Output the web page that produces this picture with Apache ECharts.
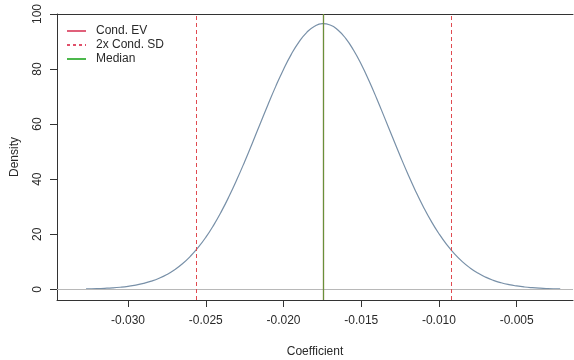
<!DOCTYPE html>
<html>
<head>
<meta charset="utf-8">
<script src="https://cdn.jsdelivr.net/npm/echarts@6/dist/echarts.min.js"></script>
<style>html,body{margin:0;padding:0;background:#fff}#c{width:574px;height:360px}</style>
</head>
<body>
<div id="c"></div>
<script>
// Density curve
var coefX = [-0.0327,-0.0325,-0.0320,-0.0315,-0.0310,-0.0305,-0.0300,-0.0295,-0.0290,-0.0285,-0.0280,-0.0275,-0.0270,-0.0265,-0.0260,-0.0255,-0.0250,-0.0245,-0.0240,-0.0235,-0.0230,-0.0225,-0.0220,-0.0215,-0.0210,-0.0205,-0.0200,-0.0195,-0.0190,-0.0185,-0.0180,-0.0175,-0.0170,-0.0165,-0.0160,-0.0155,-0.0150,-0.0145,-0.0140,-0.0135,-0.0130,-0.0125,-0.0120,-0.0115,-0.0110,-0.0105,-0.0100,-0.0095,-0.0090,-0.0085,-0.0080,-0.0075,-0.0070,-0.0065,-0.0060,-0.0055,-0.0050,-0.0045,-0.0040,-0.0035,-0.0030,-0.0025,-0.0022];
var density = [0.13,0.15,0.23,0.35,0.51,0.75,1.08,1.53,2.14,2.95,4.01,5.38,7.11,9.27,11.93,15.10,18.85,23.23,28.21,33.77,39.85,46.35,53.17,60.13,67.05,73.71,79.87,85.34,89.89,93.35,95.58,96.48,96.02,94.20,91.13,86.91,81.71,75.73,69.22,62.36,55.39,48.51,41.88,35.65,29.92,24.75,20.19,16.23,12.87,10.06,7.75,5.89,4.41,3.26,2.37,1.70,1.21,0.84,0.58,0.39,0.26,0.17,0.13];
var condEV = -0.01745;
var condSD2 = [-0.02558, -0.00918];
var median = -0.01745;
var xTicks = [-0.030,-0.025,-0.020,-0.015,-0.010,-0.005];
var xTickLabels = ['-0.030','-0.025','-0.020','-0.015','-0.010','-0.005'];
var yTicks = [0,20,40,60,80,100];
var legendNames = ['Cond. EV','2x Cond. SD','Median'];

var curveData = coefX.map(function(x,i){return [x, density[i]];});
var txt = '#2a2a2a';
var font = 'Liberation Sans, Arial, sans-serif';
var chart = echarts.init(document.getElementById('c'), null, {renderer:'canvas'});
chart.setOption({
  animation:false,
  backgroundColor:'#fff',
  grid:{left:57, right:1, top:14, bottom:60, containLabel:false, outerBoundsMode:'none'},
  legend:{
    data:legendNames, orient:'vertical', left:66, top:25, padding:0,
    itemWidth:19, itemHeight:14, itemGap:2,
    itemStyle:{opacity:0},
    textStyle:{fontFamily:font, fontSize:12, color:txt, padding:[0,0,0,5]}
  },
  xAxis:[{
    type:'value', min:-0.034569, max:-0.001378, position:'bottom',
    name:'Coefficient', nameLocation:'middle', nameGap:46,
    nameTextStyle:{fontFamily:font, fontSize:12, color:txt},
    axisLine:{show:true, onZero:false, lineStyle:{color:'#333', width:1}},
    axisTick:{show:true, length:7, customValues:xTicks, lineStyle:{color:'#333'}},
    axisLabel:{show:true, customValues:xTicks, margin:15, fontFamily:font, fontSize:12, color:txt,
      formatter:function(v){var i=xTicks.findIndex(function(t){return Math.abs(t-v)<1e-9;});return i>=0?xTickLabels[i]:'';}},
    splitLine:{show:false}
  },{
    type:'value', min:-0.034569, max:-0.001378, position:'top',
    axisLine:{show:true, onZero:false, lineStyle:{color:'#333', width:1}},
    axisTick:{show:false}, axisLabel:{show:false}, splitLine:{show:false}
  }],
  yAxis:{
    type:'value', min:-3.89, max:100,
    name:'Density', nameLocation:'middle', nameGap:36,
    nameTextStyle:{fontFamily:font, fontSize:12, color:txt},
    axisLine:{show:true, onZero:false, lineStyle:{color:'#333', width:1}},
    axisTick:{show:true, length:7, customValues:yTicks, lineStyle:{color:'#333'}},
    axisLabel:{show:true, customValues:yTicks, rotate:90, margin:13, fontFamily:font, fontSize:12, color:txt},
    splitLine:{show:false}
  },
  series:[
    {
      name:'density', type:'line', data:curveData, smooth:true, symbol:'none',
      lineStyle:{color:'#7890a8', width:1.2}, z:3,
      markLine:{silent:true, symbol:'none', precision:6, label:{show:false},
        lineStyle:{color:'#b8b8b8', width:1, type:'solid'},
        data:[{yAxis:0}]}
    },
    {
      name:'Cond. EV', type:'line', data:[], symbol:'none', z:4,
      lineStyle:{color:'#e0607a', width:1.5, type:'solid'},
      itemStyle:{color:'#e0607a'},
      markLine:{silent:true, symbol:'none', precision:6, label:{show:false},
        lineStyle:{color:'#d04050', width:1.2, type:'solid'},
        data:[{xAxis:condEV}]}
    },
    {
      name:'2x Cond. SD', type:'line', data:[], symbol:'none',
      lineStyle:{color:'#e0506a', width:1, type:[3,3]},
      itemStyle:{color:'#e0506a'},
      markLine:{silent:true, symbol:'none', precision:6, label:{show:false},
        lineStyle:{color:'#e04a50', width:1, type:[4,3]},
        data:condSD2.map(function(v){return {xAxis:v};})}
    },
    {
      name:'Median', type:'line', data:[], symbol:'none', z:6,
      lineStyle:{color:'#4cb84c', width:1.2, type:'solid'},
      itemStyle:{color:'#4cb84c'},
      markLine:{silent:true, symbol:'none', precision:6, label:{show:false}, z:6,
        lineStyle:{color:'#40b030', width:1.2, type:'solid', opacity:0.72},
        data:[{xAxis:median}]}
    }
  ]
});
</script>
</body>
</html>
